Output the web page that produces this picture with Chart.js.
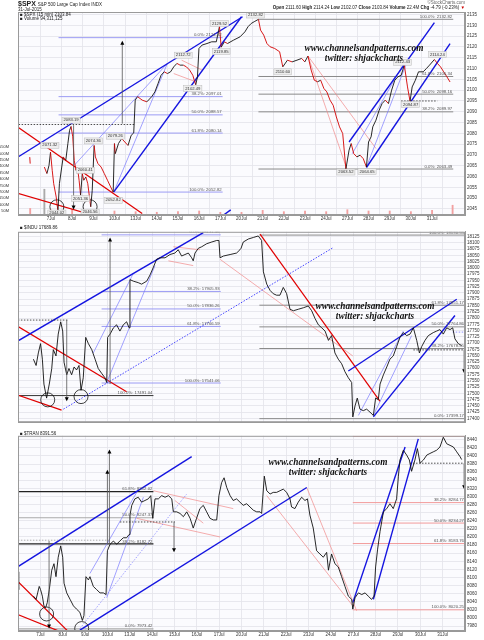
<!DOCTYPE html>
<html>
<head>
<meta charset="utf-8">
<script src="https://cdn.jsdelivr.net/npm/chart.js@4.4.1/dist/chart.umd.min.js"></script>
<style>
    body { margin: 0; width: 484px; height: 640px; background: #fff; position: relative; overflow: hidden; font-family: "Liberation Sans", Arial, sans-serif; }
    canvas { position: absolute; left: 0; }
    .t { position: absolute; white-space: nowrap; color: #222; font-size: 4.5px; line-height: 5px; }
    .wm { position: absolute; width: 170px; text-align: center; font-family: "Liberation Serif", "DejaVu Serif", serif; font-style: italic; font-weight: bold; font-size: 9.3px; line-height: 10px; color: #111; }
</style>
</head>
<body>
<canvas id="c1" width="484" height="226" style="top:0px"></canvas>
<canvas id="c2" width="484" height="206" style="top:224px"></canvas>
<canvas id="c3" width="484" height="212" style="top:428px"></canvas>

<div class="t" style="left:18px;top:0px;font-size:7px;line-height:7px"><b>$SPX</b> <span style="font-size:4.5px">S&amp;P 500 Large Cap Index INDX</span></div>
<div class="t" style="left:18px;top:7px">31-Jul-2015</div>
<div class="t" style="right:19px;top:0px;color:#666">©StockCharts.com</div>
<div class="t" style="right:19px;top:5px"><b>Open</b> 2111.60 <b>High</b> 2114.24 <b>Low</b> 2102.07 <b>Close</b> 2103.84 <b>Volume</b> 22.4M <b>Chg</b> -4.79 (-0.23%) <span style="color:#c00">▼</span></div>
<div class="t" style="left:20px;top:12px">■ $SPX (15 min) 2103.84</div>
<div class="t" style="left:20px;top:16px">■ Volume 94,311,125</div>
<div class="t" style="left:20px;top:225px">■ $INDU 17689.86</div>
<div class="t" style="left:20px;top:431px">■ $TRAN 8391.56</div>

<div class="wm" style="left:279px;top:43px">www.channelsandpatterns.com<br>twitter: shjackcharts</div>
<div class="wm" style="left:290px;top:301px">www.channelsandpatterns.com<br>twitter: shjackcharts</div>
<div class="wm" style="left:243px;top:457px">www.channelsandpatterns.com<br>twitter: shjackcharts</div>

<script>
// x positions are trading days counted from the 6 Jul open
const dayLabels = ['6Jul', '7Jul', '8Jul', '9Jul', '10Jul', '13Jul', '14Jul', '15Jul', '16Jul', '17Jul',
    '20Jul', '21Jul', '22Jul', '23Jul', '24Jul', '27Jul', '28Jul', '29Jul', '30Jul', '31Jul'];

const spxTicks = [2045, 2050, 2055, 2060, 2065, 2070, 2075, 2080, 2085, 2090, 2095, 2100, 2105, 2110, 2115, 2120, 2125, 2130, 2135];
const induTicks = [17400, 17425, 17450, 17475, 17500, 17525, 17550, 17575, 17600, 17625, 17650, 17675, 17700, 17725, 17750,
    17775, 17800, 17825, 17850, 17875, 17900, 17925, 17950, 17975, 18000, 18025, 18050, 18075, 18100, 18125];
const tranTicks = [7980, 8000, 8020, 8040, 8060, 8080, 8100, 8120, 8140, 8160, 8180, 8200, 8220, 8240, 8260, 8280, 8300,
    8320, 8340, 8360, 8380, 8400, 8420, 8440];
const volTicks = [50, 100, 150, 200, 250, 300, 350, 400, 450, 500, 550];

// $SPX 15 min
const spxT = [
    0.00, 0.02, 0.30, 0.69, 0.81, 0.91, 0.98, 1.06, 1.13, 1.25,
    1.33, 1.40, 1.51, 1.58, 1.70, 1.80, 1.88, 1.95, 2.03, 2.10,
    2.18, 2.25, 2.33, 2.40, 2.48, 2.55, 2.65, 2.74, 2.82, 2.88,
    2.95, 3.04, 3.10, 3.22, 3.37, 3.52, 3.67, 3.82, 3.94, 4.00,
    4.04, 4.19, 4.34, 4.49, 4.64, 4.79, 4.91, 4.98, 5.09, 5.31,
    5.53, 5.76, 5.91, 6.06, 6.20, 6.35, 6.50, 6.65, 6.80, 6.95,
    7.10, 7.25, 7.40, 7.55, 7.70, 7.77, 7.84, 7.92, 7.99, 8.14,
    8.37, 8.59, 8.81, 8.96, 9.04, 9.19, 9.34, 9.63, 9.93, 10.16,
    10.31, 10.46, 10.60, 10.80, 10.90, 11.05, 11.20, 11.35, 11.57, 11.80,
    11.95, 12.17, 12.39, 12.62, 12.84, 12.99, 13.14, 13.29, 13.44, 13.59,
    13.74, 13.89, 14.03, 14.18, 14.33, 14.48, 14.63, 14.78, 14.93, 15.08,
    15.18, 15.30, 15.45, 15.60, 15.75, 15.90, 16.00, 16.12, 16.20, 16.35,
    16.50, 16.64, 16.79, 16.94, 17.09, 17.24, 17.39, 17.54, 17.69, 17.84,
    17.96, 18.06, 18.21, 18.36, 18.58, 18.73, 18.88, 19.11, 19.25, 19.40,
    19.55, 19.70, 19.85];
const spxP = [
    2069.0, 2066.0, null, 2064.4, 2061.4, 2065.2, 2071.3, 2062.9, 2056.7, 2050.5,
    2044.0, 2056.7, 2064.4, 2069.1, 2067.5, 2075.3, 2081.4, 2083.2, 2078.4, 2067.5,
    2062.9, 2064.4, 2058.3, 2051.4, 2061.4, 2058.3, 2059.8, 2056.7, 2050.5, 2046.0,
    2053.6, 2074.4, 2069.1, 2066.0, 2064.4, 2061.4, 2058.3, 2055.2, 2052.8, 2075.3,
    2070.6, 2075.3, 2077.6, 2076.0, 2074.4, 2079.1, 2080.2, 2095.4, 2097.0, 2095.4,
    2094.6, 2097.0, 2099.2, 2103.1, 2106.9, 2108.5, 2107.7, 2108.5, 2110.8, 2112.4,
    2111.6, 2111.6, 2110.8, 2109.3, 2106.9, 2104.6, 2102.5, 2106.2, 2119.3, 2120.9,
    2121.6, 2122.4, 2122.4, 2129.5, 2119.9, 2122.4, 2121.6, 2123.2, 2124.7, 2127.0,
    2129.4, 2130.9, 2131.7, 2132.8, 2127.8, 2125.5, 2121.6, 2120.1, 2119.3, 2117.8,
    2110.8, 2113.9, 2113.1, 2113.9, 2114.7, 2113.1, 2115.8, 2109.3, 2104.6, 2103.9,
    2104.6, 2100.8, 2099.2, 2095.4, 2093.0, 2087.6, 2083.0, 2079.9, 2063.5, 2072.2,
    2075.3, 2070.6, 2069.1, 2069.9, 2068.3, 2064.4, 2076.0, 2078.4, 2083.0, 2086.1,
    2090.7, 2093.8, 2095.4, 2093.8, 2100.0, 2104.6, 2106.2, 2106.9, 2111.6, 2101.5,
    2094.9, 2101.5, 2104.6, 2108.5, 2108.5, 2110.0, 2111.6, 2114.2, 2112.4, 2110.8,
    2108.5, 2106.2, 2103.8];

// volume spikes (millions)
const volT = [0.02, 0.69, 1, 2, 3, 4, 5, 6, 7, 8, 9, 10, 11, 12, 13, 14, 15, 16, 17, 18, 19, 19.97];
const volM = [70, 220, 60, 65, 55, 50, 45, 40, 45, 50, 40, 40, 55, 45, 50, 45, 60, 50, 50, 45, 55, 95];

// $INDU
const induT = [
    0.00, 0.02, 0.30, 0.69, 0.81, 0.91, 1.01, 1.09, 1.16, 1.28,
    1.40, 1.51, 1.58, 1.70, 1.80, 1.91, 2.00, 2.06, 2.18, 2.28,
    2.40, 2.51, 2.62, 2.73, 2.82, 2.92, 3.03, 3.15, 3.30, 3.45,
    3.59, 3.74, 3.89, 3.97, 4.01, 4.12, 4.27, 4.41, 4.56, 4.71,
    4.86, 4.97, 5.01, 5.16, 5.38, 5.53, 5.76, 5.91, 6.06, 6.20,
    6.35, 6.58, 6.80, 7.02, 7.17, 7.32, 7.47, 7.62, 7.77, 7.84,
    7.92, 8.07, 8.22, 8.44, 8.67, 8.89, 8.99, 9.04, 9.19, 9.49,
    9.78, 9.93, 9.98, 10.08, 10.31, 10.53, 10.75, 10.90, 10.98, 11.13,
    11.28, 11.42, 11.57, 11.72, 11.87, 12.02, 12.17, 12.32, 12.54, 12.77,
    12.99, 13.14, 13.29, 13.44, 13.59, 13.74, 13.89, 14.03, 14.18, 14.33,
    14.48, 14.63, 14.78, 14.93, 14.98, 15.08, 15.18, 15.30, 15.45, 15.60,
    15.75, 15.90, 16.00, 16.12, 16.20, 16.35, 16.50, 16.64, 16.79, 16.94,
    17.09, 17.24, 17.39, 17.54, 17.69, 17.84, 17.96, 18.06, 18.21, 18.36,
    18.58, 18.73, 18.88, 19.03, 19.18, 19.33, 19.45, 19.55, 19.70, 19.85];
const induP = [
    17636, 17562, null, 17636, 17611, 17661, 17698, 17636, 17537, 17481,
    17537, 17599, 17674, 17649, 17736, 17785, 17748, 17624, 17574, 17599,
    17574, 17605, 17593, 17611, 17512, 17562, 17723, 17698, 17674, 17636,
    17599, 17580, 17562, 17543, 17723, 17736, 17761, 17773, 17748, 17773,
    17785, 17761, 17953, 17947, 17941, 17935, 17947, 17972, 18003, 18034,
    18040, 18040, 18053, 18059, 18072, 18047, 18053, 18059, 18040, 18028,
    18059, 18078, 18084, 18096, 18103, 18109, 18109, 18040, 18047, 18053,
    18059, 18072, 18078, 18103, 18115, 18121, 18127, 18109, 17984, 17935,
    17910, 17897, 17891, 17891, 17922, 17897, 17835, 17829, 17835, 17841,
    17848, 17829, 17798, 17773, 17761, 17748, 17711, 17730, 17661, 17636,
    17618, 17586, 17562, 17543, 17406, 17450, 17481, 17437, 17431, 17437,
    17425, 17412, 17481, 17475, 17537, 17574, 17605, 17636, 17649, 17686,
    17723, 17742, 17730, 17736, 17761, 17711, 17661, 17686, 17711, 17730,
    17742, 17748, 17754, 17736, 17761, 17754, 17761, 17717, 17698, 17690];

// $TRAN
const tranT = [
    0.00, 0.03, 0.30, 0.69, 0.81, 0.88, 0.95, 1.01, 1.09, 1.16,
    1.24, 1.31, 1.40, 1.51, 1.61, 1.70, 1.80, 1.91, 2.00, 2.06,
    2.18, 2.33, 2.48, 2.62, 2.77, 2.88, 2.95, 3.04, 3.15, 3.22,
    3.37, 3.52, 3.67, 3.82, 3.94, 4.00, 4.12, 4.27, 4.41, 4.56,
    4.71, 4.86, 4.97, 5.01, 5.09, 5.23, 5.38, 5.53, 5.68, 5.83,
    5.94, 6.03, 6.13, 6.28, 6.43, 6.58, 6.73, 6.88, 6.95, 7.10,
    7.25, 7.40, 7.55, 7.70, 7.84, 7.99, 8.14, 8.29, 8.44, 8.59,
    8.74, 8.89, 8.99, 9.11, 9.22, 9.34, 9.49, 9.63, 9.78, 9.93,
    10.08, 10.23, 10.38, 10.53, 10.68, 10.83, 10.90, 11.02, 11.13, 11.28,
    11.42, 11.57, 11.72, 11.87, 12.02, 12.17, 12.24, 12.39, 12.54, 12.69,
    12.84, 12.95, 13.06, 13.21, 13.36, 13.51, 13.66, 13.81, 13.89, 14.03,
    14.18, 14.33, 14.48, 14.63, 14.78, 14.93, 14.98, 15.08, 15.23, 15.38,
    15.53, 15.67, 15.82, 15.93, 16.00, 16.09, 16.20, 16.35, 16.50, 16.64,
    16.79, 16.94, 17.02, 17.09, 17.24, 17.39, 17.51, 17.61, 17.76, 17.87,
    17.99, 18.14, 18.29, 18.43, 18.58, 18.73, 18.88, 19.03, 19.18, 19.33,
    19.48, 19.63, 19.78, 19.85];
const tranP = [
    8114, 8070, null, 8054, 8046, 8062, 8078, 8070, 8054, 8030,
    8026, 8038, 8070, 8118, 8134, 8102, 8150, 8178, 8150, 8086,
    8062, 8046, 8030, 8022, 8014, 7994, 8006, 8102, 8094, 8102,
    8078, 8070, 8062, 8062, 8058, 8166, 8182, 8190, 8182, 8190,
    8198, 8198, 8206, 8254, 8278, 8294, 8298, 8286, 8290, 8294,
    8302, 8246, 8294, 8294, 8302, 8298, 8302, 8294, 8262, 8262,
    8258, 8250, 8262, 8246, 8222, 8246, 8270, 8278, 8262, 8246,
    8242, 8242, 8302, 8334, 8346, 8322, 8302, 8290, 8294, 8286,
    8278, 8282, 8274, 8266, 8262, 8262, 8258, 8350, 8314, 8306,
    8310, 8310, 8314, 8318, 8310, 8294, 8274, 8270, 8286, 8298,
    8290, 8294, 8254, 8222, 8166, 8158, 8150, 8162, 8118, 8158,
    8134, 8126, 8102, 8078, 8054, 8046, 8022, 8050, 8062, 8058,
    8062, 8054, 8046, 8054, 8126, 8170, 8214, 8262, 8270, 8282,
    8270, 8294, 8350, 8390, 8414, 8402, 8390, 8362, 8390, 8418,
    8382, 8390, 8402, 8406, 8410, 8414, 8422, 8446, 8430, 8426,
    8422, 8410, 8398, 8391];

// fibonacci levels
const fibDown = ['0.0%', '38.2%', '50.0%', '61.8%', '100.0%'];
const fibUp = ['100.0%', '61.8%', '50.0%', '38.2%', '0.0%'];
const spxFibL = [2124.32, 2097.01, 2088.57, 2080.14, 2052.82];
const spxFibLSpan = [1.36, 9.11];
const spxFibR = [2132.82, 2106.34, 2098.16, 2089.97, 2063.49];
const spxFibRSpan = [10.80, 20];
const induFibL = [18131.46, 17905.93, 17836.26, 17766.59, 17541.06];
const induFibLSpan = [3.74, 9.07];
const induFibR = [18130.55, 17851.17, 17764.86, 17678.55, 17399.17];
const induFibRSpan = [10.80, 20];
const induFibB = [17491.04];
const induFibBSpan = [-0.81, 6.06];
const tranFibL = [8312.02, 8247.37, 8182.72, 7973.42];
const tranFibLNames = ['61.8%', '50.0%', '38.2%', '0.0%'];
const tranFibLSpan = [-0.81, 6.06];
const tranFibR = [8448.28, 8284.77, 8234.27, 8183.76, 8020.25];
const tranFibRSpan = [14.98, 20];

// trend lines [x1, y1, x2, y2]
const spxBlue = [[-0.81, 2067.5, 10.05, 2134.0], [3.97, 2052.9, 10.0, 2134.0], [8.52, 2037.6, 9.49, 2044.6],
    [15.08, 2076.0, 19.11, 2131.3], [15.90, 2064.2, 19.85, 2121.6]];
const spxBlueThin = [[2.10, 2065.2, 6.50, 2112.4], [3.97, 2052.9, 6.50, 2112.4],
    [15.23, 2070.6, 17.76, 2114.0], [15.90, 2064.4, 17.76, 2111.6]];
const spxRed = [[-0.81, 2084.6, 5.31, 2042.9], [-0.81, 2052.9, 3.82, 2039.7]];
const spxRedThin = [[13.14, 2115.8, 14.98, 2063.4], [13.14, 2115.8, 16.35, 2073.0],
    [7.17, 2113.9, 8.14, 2109.3], [6.80, 2107.7, 7.84, 2103.9]];

const induBlue = [[-0.81, 17667, 8.29, 18140], [14.78, 17589, 19.63, 17875], [15.90, 17406, 19.55, 17810]];
const induBlueThin = [[3.37, 17661, 5.16, 17978], [3.97, 17543, 6.13, 18009],
    [15.23, 17412, 17.24, 17748], [15.90, 17412, 17.61, 17730]];
const induBlueDot = [[2.03, 17437, 14.11, 18081]];
const induRed = [[-0.81, 17810, 4.86, 17506], [-0.81, 17518, 1.95, 17433], [10.83, 18134, 16.20, 17468]];
const induRedThin = [[9.04, 18034, 14.98, 17649], [6.95, 18084, 8.14, 18072], [6.73, 18028, 7.84, 18009]];

const tranBlue = [[-0.66, 8104, 7.77, 8398], [2.77, 7970, 12.92, 8322], [14.98, 8038, 17.32, 8422], [15.90, 8046, 17.91, 8442]];
const tranBlueThin = [[3.22, 8110, 5.31, 8310], [3.97, 8050, 5.61, 8298]];
const tranBlueDot = [[2.77, 7974, 7.55, 8306]];
const tranRed = [[-0.81, 8134, 2.48, 7954], [-0.81, 8026, 2.55, 7952]];
const tranRedThin = [[11.13, 8302, 14.98, 8030], [12.92, 8322, 15.15, 8018], [6.06, 8314, 9.63, 8270],
    [5.31, 8246, 9.04, 8200], [7.02, 8290, 8.29, 8234]];

// horizontal dotted levels [x1, x2, y]
const spxDotted = [[-0.81, 5.0, 2084.1], [17.54, 19.25, 2095.0]];
const induDotted = [[-0.81, 2.25, 17792], [17.69, 19.93, 17673]];
const induBlueLevel = [[19.45, 19.93, 17744]];
const tranDotted = [[4.56, 7.02, 8237], [17.54, 19.93, 8382]];
const tranGrayDotted = [[-0.81, 4.12, 8192]];

// arrows [x, from, to]
const spxArrows = [[4.37, 2084.5, 2122.9], [2.07, 2083.8, 2044.8]];
const induArrows = [[4.12, 17537, 18121], [2.18, 17792, 17468], [19.96, 17673, 17580]];
const tranArrows = [[4.00, 8182, 8366], [4.09, 8182, 8416], [6.98, 8238, 8162], [1.39, 8190, 7974], [19.96, 8382, 8318]];

// circled lows
const spxCircles = [[1.28, 2046.0], [2.85, 2046.0]];
const induCircles = [[1.33, 17474], [2.82, 17487]];
const tranCircles = [[1.28, 8010], [2.85, 7974]];

// boxed price tags [x, y, text]
const spxTags = [[0.95, 2074.5, '2071.32'], [1.95, 2086.1, '2083.19'], [3.00, 2076.5, '2074.36'], [2.62, 2062.9, '2060.41'],
    [2.40, 2049.8, '2051.36'], [3.94, 2049.0, '2052.82'], [4.04, 2078.7, '2079.26'], [1.28, 2043.1, '2044.02'],
    [2.85, 2043.5, '2046.56'], [7.25, 2116.2, '2112.72'], [7.70, 2100.8, '2102.49'], [8.96, 2130.9, '2129.52'],
    [9.04, 2117.8, '2119.85'], [10.66, 2134.8, '2132.82'], [11.95, 2108.5, '2110.60'], [14.93, 2062.1, '2063.52'],
    [15.93, 2062.3, '2064.65'], [17.61, 2112.9, '2112.43'], [17.99, 2093.4, '2094.87'], [19.25, 2116.5, '2114.24']];

const GRID = '#e3e3ea';
const FONT = 'Liberation Sans';

function pts(t, v) {
    return t.map((x, i) => ({ x: x, y: v[i] }));
}

function segs(list, color, width, dash) {
    return list.map(s => ({
        type: 'line',
        data: [{ x: s[0], y: s[1] }, { x: s[2], y: s[3] }],
        borderColor: color, borderWidth: width, borderDash: dash || [],
        pointRadius: 0, order: 3
    }));
}

function flats(list, color, width, dash) {
    return segs(list.map(h => [h[0], h[2], h[1], h[2]]), color, width, dash);
}

function fibLines(levels, span, colors, width) {
    return levels.map((v, i) => ({
        type: 'line',
        data: [{ x: span[0], y: v }, { x: span[1], y: v }],
        borderColor: Array.isArray(colors) ? colors[i] : colors,
        borderWidth: width, pointRadius: 0, order: 4
    }));
}

function circles(list) {
    return {
        type: 'line', data: list.map(c => ({ x: c[0], y: c[1] })), showLine: false,
        pointRadius: 7, pointBorderColor: '#111', pointBorderWidth: 0.8,
        pointBackgroundColor: 'rgba(0,0,0,0)', order: 1
    };
}

function xAxis(showLabels, h) {
    return {
        type: 'linear', min: 0, max: 20,
        afterBuildTicks: s => { s.ticks = dayLabels.slice(1).map((d, i) => ({ value: i + 1 })); },
        ticks: { display: showLabels, callback: v => dayLabels[v], font: { size: 4.5, family: FONT }, color: '#333', maxRotation: 0, autoSkip: false, padding: 1 },
        grid: { color: GRID, drawTicks: false, lineWidth: 0.8 },
        border: { color: '#999' },
        afterFit: s => { s.height = h; }
    };
}

function yAxis(min, max, ticks) {
    return {
        position: 'right', min: min, max: max,
        afterBuildTicks: s => { s.ticks = ticks.map(v => ({ value: v })); },
        ticks: { font: { size: 4.5, family: FONT }, color: '#333', padding: 2, autoSkip: false, callback: v => String(v) },
        grid: { color: GRID, drawTicks: false, lineWidth: 0.8 },
        border: { color: '#999' },
        afterFit: s => { s.width = 19; }
    };
}

// background, frame, fib labels, arrows and tags
function extrasPlugin(o) {
    return {
        id: 'extras',
        beforeDraw(chart) {
            const a = chart.chartArea, c = chart.ctx;
            c.save();
            c.fillStyle = '#fbfbfe';
            c.fillRect(a.left, a.top, a.right - a.left, a.bottom - a.top);
            c.restore();
        },
        afterDatasetsDraw(chart) {
            const c = chart.ctx, a = chart.chartArea, xs = chart.scales.x, ys = chart.scales.y;
            c.save();
            c.beginPath();
            c.rect(a.left, a.top, a.right - a.left, a.bottom - a.top);
            c.clip();

            c.font = '4.3px ' + FONT;
            c.fillStyle = '#555';
            c.textAlign = 'right';
            c.textBaseline = 'bottom';
            (o.fibs || []).forEach(f => {
                f.levels.forEach((v, i) => {
                    const xr = Math.min(xs.getPixelForValue(f.span[1]), a.right) - 1;
                    c.fillText(f.names[i] + ': ' + v.toFixed(2), xr, ys.getPixelForValue(v) - 0.5);
                });
            });

            (o.arrows || []).forEach(r => {
                const x = xs.getPixelForValue(r[0]);
                const y1 = ys.getPixelForValue(r[1]);
                const y2 = ys.getPixelForValue(r[2]);
                const d = y2 < y1 ? 1 : -1;
                c.strokeStyle = '#555';
                c.lineWidth = 0.8;
                c.beginPath();
                c.moveTo(x, y1);
                c.lineTo(x, y2 + d * 3);
                c.stroke();
                c.fillStyle = '#000';
                c.beginPath();
                c.moveTo(x, y2);
                c.lineTo(x - 2, y2 + d * 4);
                c.lineTo(x + 2, y2 + d * 4);
                c.closePath();
                c.fill();
            });

            c.font = '4.2px ' + FONT;
            c.textAlign = 'center';
            c.textBaseline = 'middle';
            (o.tags || []).forEach(t => {
                const x = xs.getPixelForValue(t[0]), y = ys.getPixelForValue(t[1]);
                const w = c.measureText(t[2]).width + 3;
                c.fillStyle = '#eeeeee';
                c.fillRect(x - w / 2, y - 3, w, 6);
                c.strokeStyle = '#bbb';
                c.lineWidth = 0.5;
                c.strokeRect(x - w / 2, y - 3, w, 6);
                c.fillStyle = '#333';
                c.fillText(t[2], x, y);
            });
            c.restore();

            c.save();
            c.strokeStyle = '#9a9a9a';
            c.lineWidth = 1;
            c.strokeRect(a.left + 0.5, a.top + 0.5, a.right - a.left - 1, a.bottom - a.top - 1);
            c.restore();
        }
    };
}

const common = {
    animation: false,
    responsive: false,
    events: [],
    plugins: { legend: { display: false }, tooltip: { enabled: false } }
};

const BLUE = '#1414e0', BLUE_THIN = '#7a7aff', RED = '#e00000', RED_THIN = '#f08a8a';

// top: $SPX with volume
new Chart(document.getElementById('c1'), {
    type: 'line',
    data: {
        datasets: [
            {
                data: pts(spxT, spxP), borderColor: '#111', borderWidth: 0.9, pointRadius: 0, spanGaps: false, order: 0,
                segment: { borderColor: c => c.p1.parsed.y < c.p0.parsed.y ? '#d40000' : '#111' }
            },
            {
                type: 'bar', yAxisID: 'yv', data: pts(volT, volM), barThickness: 1.2, order: 5,
                backgroundColor: c => c.dataIndex === 1 ? '#aaaaaa' : '#f2a0a0'
            },
            ...fibLines(spxFibL, spxFibLSpan, '#9c9cf4', 1),
            ...fibLines(spxFibR, spxFibRSpan, '#8a8a8a', 1),
            ...flats(spxDotted, '#222', 0.8, [1.5, 1.5]),
            ...segs(spxBlue, BLUE, 1.4),
            ...segs(spxBlueThin, BLUE_THIN, 0.7),
            ...segs(spxRed, RED, 1.2),
            ...segs(spxRedThin, RED_THIN, 0.7),
            circles(spxCircles)
        ]
    },
    options: {
        ...common,
        layout: { padding: { top: 12, left: 0, right: 0, bottom: 0 } },
        scales: {
            x: xAxis(true, 11),
            y: yAxis(2042.2, 2136.2, spxTicks),
            yv: {
                position: 'left', min: 18.75, max: 1605,
                afterBuildTicks: s => { s.ticks = volTicks.map(v => ({ value: v })); },
                ticks: { font: { size: 4, family: FONT }, color: '#333', padding: 1, autoSkip: false, callback: v => v + 'M' },
                grid: { display: false },
                border: { display: false },
                afterFit: s => { s.width = 18; }
            }
        }
    },
    plugins: [extrasPlugin({
        fibs: [{ levels: spxFibL, names: fibDown, span: spxFibLSpan }, { levels: spxFibR, names: fibUp, span: spxFibRSpan }],
        arrows: spxArrows,
        tags: spxTags
    })]
});

// middle: $INDU
new Chart(document.getElementById('c2'), {
    type: 'line',
    data: {
        datasets: [
            { data: pts(induT, induP), borderColor: '#111', borderWidth: 0.9, pointRadius: 0, spanGaps: false, order: 0 },
            ...fibLines(induFibL, induFibLSpan, '#9c9cf4', 1),
            ...fibLines(induFibR, induFibRSpan, '#8a8a8a', 1),
            ...fibLines(induFibB, induFibBSpan, '#333', 1),
            ...flats(induDotted, '#222', 0.8, [1.5, 1.5]),
            ...flats(induBlueLevel, BLUE_THIN, 0.8, [1.5, 1.5]),
            ...segs(induBlue, BLUE, 1.4),
            ...segs(induBlueThin, BLUE_THIN, 0.7),
            ...segs(induBlueDot, '#3030ff', 0.9, [1.5, 1.5]),
            ...segs(induRed, RED, 1.2),
            ...segs(induRedThin, RED_THIN, 0.7),
            circles(induCircles)
        ]
    },
    options: {
        ...common,
        layout: { padding: { top: 0, left: 18, right: 0, bottom: 0 } },
        scales: { x: xAxis(false, 2), y: yAxis(17385, 18143.6, induTicks) }
    },
    plugins: [extrasPlugin({
        fibs: [{ levels: induFibL, names: fibDown, span: induFibLSpan }, { levels: induFibR, names: fibUp, span: induFibRSpan },
            { levels: induFibB, names: ['100.0%'], span: induFibBSpan }],
        arrows: induArrows
    })]
});

// bottom: $TRAN
new Chart(document.getElementById('c3'), {
    type: 'line',
    data: {
        datasets: [
            { data: pts(tranT, tranP), borderColor: '#111', borderWidth: 0.9, pointRadius: 0, spanGaps: false, order: 0 },
            ...fibLines(tranFibL, tranFibLSpan, ['#222', '#aaa', '#222', '#aaa'], 1.2),
            ...fibLines(tranFibR, tranFibRSpan, '#f29b9b', 1),
            ...flats(tranDotted, '#222', 0.8, [1.5, 1.5]),
            ...flats(tranGrayDotted, '#999', 0.8, [1.5, 1.5]),
            ...segs(tranBlue, BLUE, 1.4),
            ...segs(tranBlueThin, BLUE_THIN, 0.7),
            ...segs(tranBlueDot, BLUE_THIN, 0.7, [1.5, 1.5]),
            ...segs(tranRed, RED, 1.2),
            ...segs(tranRedThin, RED_THIN, 0.7),
            circles(tranCircles)
        ]
    },
    options: {
        ...common,
        layout: { padding: { top: 2, left: 18, right: 0, bottom: 0 } },
        scales: { x: xAxis(true, 9), y: yAxis(7968, 8449.6, tranTicks) }
    },
    plugins: [extrasPlugin({
        fibs: [{ levels: tranFibL, names: tranFibLNames, span: tranFibLSpan }, { levels: tranFibR, names: fibDown, span: tranFibRSpan }],
        arrows: tranArrows
    })]
});
</script>
</body>
</html>
